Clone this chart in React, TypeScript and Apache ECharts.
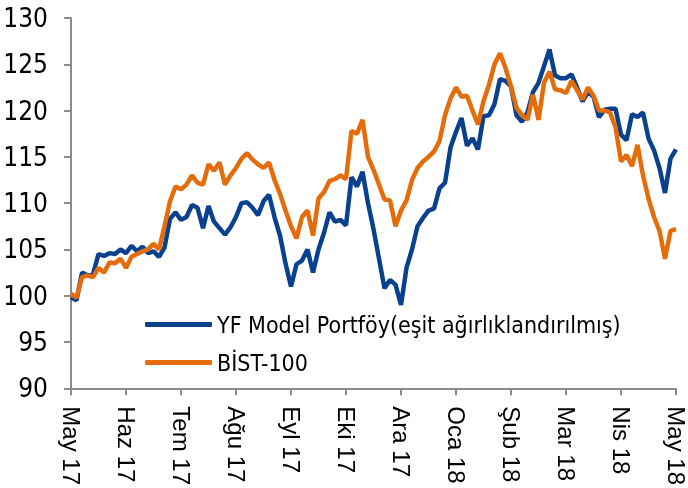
import React, { useEffect, useRef } from "react";
import * as echarts from "echarts";

const monthLabels = [
  "May 17", "Haz 17", "Tem 17", "Ağu 17", "Eyl 17", "Eki 17",
  "Ara 17", "Oca 18", "Şub 18", "Mar 18", "Nis 18", "May 18",
];

const seriesNames = ["YF Model Portföy(eşit ağırlıklandırılmış)", "BİST-100"];

const yfModel = [
  99.8, 99.5, 102.5, 102.2, 102.3, 104.5, 104.3, 104.6, 104.5, 105.0,
  104.6, 105.4, 104.8, 105.3, 104.6, 104.8, 104.2, 105.2, 108.3, 109.0,
  108.2, 108.5, 109.8, 109.5, 107.3, 109.7, 108.0, 107.3, 106.6, 107.4,
  108.5, 110.0, 110.1, 109.5, 108.7, 110.2, 110.9, 108.5, 106.5, 103.5,
  101.0, 103.4, 103.8, 105.0, 102.5, 105.0, 106.8, 109.0, 108.0, 108.2,
  107.6, 112.8, 111.8, 113.4, 110.0, 107.2, 104.0, 100.8, 101.7, 101.2,
  99.0, 103.0, 105.0, 107.5, 108.4, 109.2, 109.4, 111.6, 112.2, 116.0,
  117.7, 119.2, 116.2, 117.0, 115.8, 119.4, 119.5, 120.7, 123.4, 123.2,
  122.6, 119.5, 118.8, 119.8, 122.0, 123.0, 124.8, 126.6, 123.8, 123.5,
  123.5, 123.9, 122.5, 121.0, 122.0, 121.5, 119.3, 120.1, 120.2, 120.2,
  117.4, 116.8, 119.6, 119.3, 119.8, 117.0, 115.7, 113.8, 111.1, 114.8,
  115.8,
];

const bist100 = [
  100.2, 99.8, 102.0, 102.2, 102.0, 103.0, 102.5, 103.6, 103.5, 104.0,
  103.0, 104.2, 104.5, 104.8, 105.0, 105.6, 105.0, 107.5, 110.2, 111.8,
  111.5, 112.0, 113.0, 112.2, 112.0, 114.2, 113.5, 114.4, 112.0, 113.0,
  113.8, 114.8, 115.4, 114.7, 114.2, 113.8, 114.4, 112.5, 111.0, 109.2,
  107.5, 106.2, 108.5, 109.2, 106.5, 110.5, 111.2, 112.4, 112.6, 113.0,
  112.6, 117.8, 117.5, 119.0, 115.0, 113.6, 112.0, 110.4, 110.3, 107.5,
  109.2, 110.3, 112.5, 113.8, 114.5, 115.0, 115.6, 116.7, 119.5, 121.3,
  122.5, 121.5, 121.6, 120.0, 118.5, 121.0, 122.8, 125.0, 126.2, 124.6,
  122.6, 120.3, 119.5, 119.0, 121.7, 119.0, 123.0, 124.2, 122.3, 122.2,
  121.9, 123.2, 122.2, 121.2, 122.5, 121.6, 120.0, 120.0, 119.8, 118.2,
  114.5, 115.2, 114.0, 116.3, 113.0, 110.5, 108.5, 107.0, 104.0, 107.0,
  107.2,
];

const colors = ["#0A418F", "#E46C0A"];

const narrow = '"Liberation Sans Narrow", "Arial Narrow", "DejaVu Sans Condensed", sans-serif';
const regular = '"Liberation Sans", Arial, sans-serif';

export default function App() {
  const ref = useRef<HTMLDivElement>(null);
  useEffect(() => {
    if (!ref.current) return;
    const chart = echarts.init(ref.current, null, { renderer: "svg" });
    const axisGray = "#8C8C8C";
    chart.setOption({
      animation: false,
      grid: { left: 71, right: 9, top: 18, bottom: 99 },
      legend: {
        orient: "vertical",
        left: 145,
        top: 313,
        padding: 0,
        icon: "roundRect",
        itemWidth: 67,
        itemHeight: 5,
        itemGap: 15,
        data: seriesNames,
        textStyle: { fontFamily: narrow, fontSize: 23, color: "#000" },
      },
      xAxis: {
        type: "value",
        min: 0,
        max: 110,
        interval: 10,
        axisLine: { lineStyle: { color: axisGray, width: 2 } },
        axisTick: { length: 7, lineStyle: { color: axisGray, width: 2 } },
        splitLine: { show: false },
        axisLabel: {
          rotate: -90,
          margin: 18,
          fontSize: 24,
          fontFamily: regular,
          color: "#000",
          formatter: (v: number) => monthLabels[Math.round(v / 10)] ?? "",
        },
      },
      yAxis: {
        type: "value",
        min: 90,
        max: 130,
        interval: 5,
        axisLine: { show: true, lineStyle: { color: axisGray, width: 2 } },
        axisTick: { show: true, length: 7, lineStyle: { color: axisGray, width: 2 } },
        splitLine: { show: false },
        axisLabel: { margin: 23, fontSize: 26, fontFamily: narrow, color: "#000" },
      },
      series: [
        {
          name: seriesNames[0],
          type: "line",
          symbol: "none",
          data: yfModel.map((v, i) => [i, v]),
          lineStyle: { color: colors[0], width: 4.5 },
          itemStyle: { color: colors[0] },
        },
        {
          name: seriesNames[1],
          type: "line",
          symbol: "none",
          data: bist100.map((v, i) => [i, v]),
          lineStyle: { color: colors[1], width: 4.5 },
          itemStyle: { color: colors[1] },
        },
      ],
    });
    return () => chart.dispose();
  }, []);
  return (
    <div
      ref={ref}
      style={{ position: "fixed", left: 0, top: 0, width: 688, height: 488 }}
    />
  );
}
